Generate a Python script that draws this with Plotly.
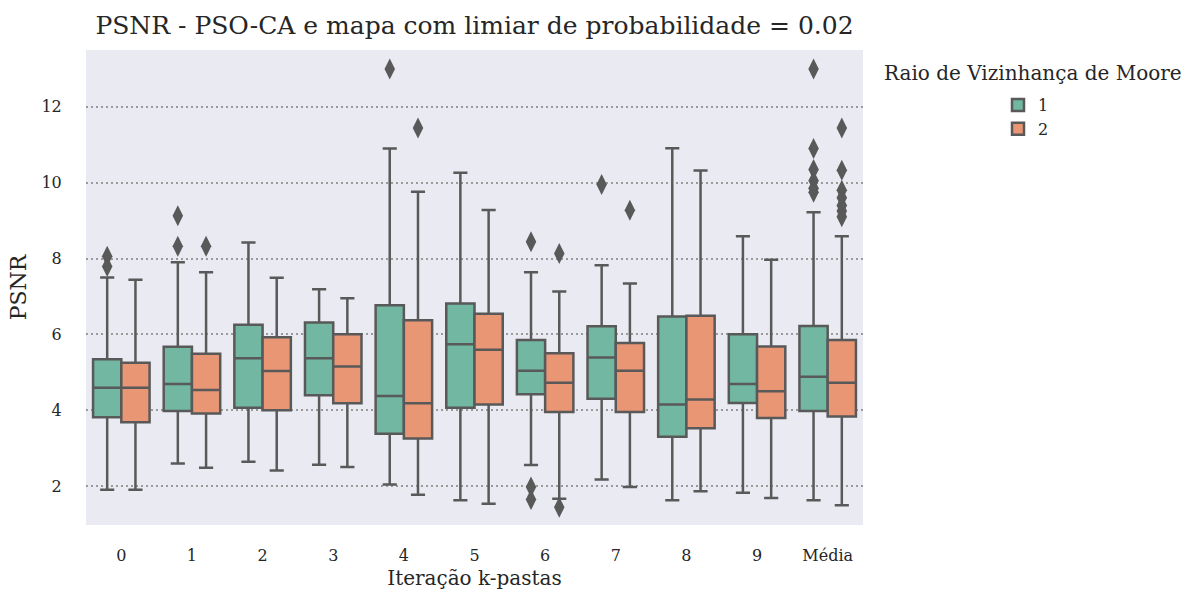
import plotly.graph_objects as go

cats = ["0", "1", "2", "3", "4", "5", "6", "7", "8", "9", "Média"]

# Raio 1
r1_low = [1.90, 2.59, 2.64, 2.56, 2.04, 1.62, 2.55, 2.17, 1.62, 1.82, 1.62]
r1_q1 = [3.81, 3.98, 4.06, 4.39, 3.38, 4.06, 4.42, 4.30, 3.30, 4.19, 3.98]
r1_med = [4.59, 4.69, 5.37, 5.37, 4.37, 5.74, 5.04, 5.39, 4.15, 4.69, 4.88]
r1_q3 = [5.34, 5.67, 6.25, 6.31, 6.77, 6.81, 5.85, 6.21, 6.47, 6.00, 6.22]
r1_high = [7.50, 7.90, 8.42, 7.19, 10.90, 10.26, 7.64, 7.82, 10.91, 8.59, 9.22]
r1_out = [[8.06, 7.79], [9.13, 8.32], [], [], [13.0], [], [8.44, 1.97, 1.64],
          [9.95], [], [], [13.0, 10.9, 10.35, 10.05, 9.85, 9.75]]

# Raio 2
r2_low = [1.90, 2.48, 2.41, 2.50, 1.77, 1.53, 1.66, 1.97, 1.86, 1.68, 1.49]
r2_q1 = [3.68, 3.91, 4.00, 4.18, 3.25, 4.15, 3.95, 3.95, 3.52, 3.79, 3.83]
r2_med = [4.59, 4.53, 5.03, 5.15, 4.18, 5.59, 4.72, 5.04, 4.28, 4.50, 4.72]
r2_q3 = [5.25, 5.49, 5.92, 6.00, 6.37, 6.54, 5.50, 5.77, 6.49, 5.68, 5.85]
r2_high = [7.44, 7.64, 7.49, 6.95, 9.76, 9.28, 7.13, 7.34, 10.32, 7.97, 8.59]
r2_out = [[], [8.32], [], [], [11.44], [], [8.13, 1.44], [9.27], [], [],
          [11.44, 10.33, 9.8, 9.6, 9.4, 9.25, 9.1]]

yticks = [2, 4, 6, 8, 10, 12]

FONT = "DejaVu Serif"
LINE = "#595959"
colors = ["#71b7a1", "#e99675"]

fig = go.Figure()
series = [
    ("1", r1_low, r1_q1, r1_med, r1_q3, r1_high, r1_out),
    ("2", r2_low, r2_q1, r2_med, r2_q3, r2_high, r2_out),
]
for (name, lo, q1, med, q3, hi, out), col in zip(series, colors):
    fig.add_trace(go.Box(
        name=name, x=cats, offsetgroup=name,
        lowerfence=lo, q1=q1, median=med, q3=q3, upperfence=hi,
        boxpoints=False,
        fillcolor=col, line=dict(color=LINE, width=2.5),
        whiskerwidth=0.5, hoverinfo="skip",
    ))
for (name, lo, q1, med, q3, hi, out), col in zip(series, colors):
    ox = [c for c, vals in zip(cats, out) for _ in vals]
    oy = [v for vals in out for v in vals]
    fig.add_trace(go.Scatter(
        x=ox, y=oy, mode="markers", offsetgroup=name, showlegend=False,
        marker=dict(symbol="diamond-tall", size=15, color=LINE,
                    line=dict(width=0)),
        hoverinfo="skip",
    ))

fig.update_layout(
    width=1195, height=597,
    margin=dict(l=86, r=332, t=50, b=72),
    paper_bgcolor="white", plot_bgcolor="#eaeaf2",
    boxmode="group", boxgap=0.2, boxgroupgap=0,
    scattermode="group", scattergap=0.2,
    font=dict(family=FONT, color="#262626", size=16),
    title=dict(text="PSNR - PSO-CA e mapa com limiar de probabilidade = 0.02",
               x=0.5, xref="paper", xanchor="center",
               y=1 - 25 / 597, yref="container", yanchor="middle",
               font=dict(family=FONT, size=25, color="#262626")),
    showlegend=True,
    legend=dict(x=(998 - 86) / 777, xanchor="left", y=(525 - 88) / 475,
                yanchor="top", bgcolor="rgba(0,0,0,0)",
                font=dict(family=FONT, size=16, color="#262626"),
                itemwidth=30, tracegroupgap=4),
    annotations=[dict(text="Raio de Vizinhança de Moore", showarrow=False,
                      xref="paper", yref="paper",
                      x=(1033 - 86) / 777, y=(525 - 73) / 475,
                      xanchor="center", yanchor="middle",
                      font=dict(family=FONT, size=20, color="#262626"))],
)
fig.update_xaxes(
    type="category", categoryorder="array", categoryarray=cats,
    range=[-0.5, 10.5], showgrid=False, zeroline=False, showline=False,
    ticks="outside", ticklen=16, tickcolor="rgba(0,0,0,0)",
    tickfont=dict(family=FONT, size=16, color="#262626"),
    title=dict(text="Iteração k-pastas", standoff=6,
               font=dict(family=FONT, size=20, color="#262626")),
)
fig.update_yaxes(
    range=[0.97, 13.5], tickvals=yticks,
    showgrid=True, gridcolor="#9a9a9a", griddash="2px,3px", gridwidth=1.5,
    zeroline=False, showline=False,
    ticks="outside", ticklen=20, tickcolor="rgba(0,0,0,0)",
    tickfont=dict(family=FONT, size=16, color="#262626"),
    title=dict(text="PSNR", standoff=8,
               font=dict(family=FONT, size=22, color="#262626")),
)

fig.write_html("out.html")
